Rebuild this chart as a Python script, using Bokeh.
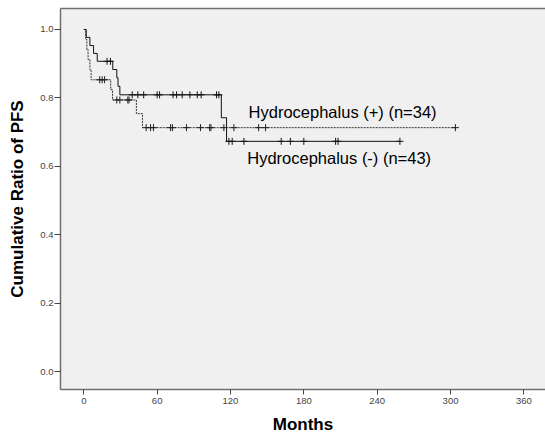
import numpy as np
from bokeh.plotting import figure
from bokeh.models import Range1d, FixedTicker, NumeralTickFormatter, LinearAxis, Label
from bokeh.embed import file_html
from bokeh.resources import INLINE

# Hydrocephalus (+) (n=34) - dashed
plus_times = [0, 1.5, 2.5, 3.5, 5, 6, 22, 23.5, 43, 48, 304]
plus_surv = [1.0, 0.971, 0.941, 0.912, 0.882, 0.853, 0.824, 0.794, 0.754, 0.713, 0.713]
plus_censored = [13, 15, 17, 27, 29.5, 36, 37, 51, 54.6, 57, 71, 72.5, 84,
                 95.5, 103, 104, 114.6, 122.8, 143, 148.7, 304]

# Hydrocephalus (-) (n=43) - solid
minus_times = [0, 2, 5, 8, 11, 23.7, 27, 28, 29.5, 112.5, 116.8, 258.6]
minus_surv = [1.0, 0.977, 0.953, 0.930, 0.907, 0.883, 0.859, 0.834, 0.809, 0.742, 0.673, 0.673]
minus_censored = [19, 21.8, 39.6, 44.2, 49, 60, 62, 73, 75.9, 80.5, 86.8, 92.8, 96,
                  108.6, 110.5, 118.7, 121.4, 131, 161.5, 169, 180, 206, 208, 258.6]

x_ticks = [0, 60, 120, 180, 240, 300, 360]
y_ticks = [0.0, 0.2, 0.4, 0.6, 0.8, 1.0]

label_plus = "Hydrocephalus (+) (n=34)"
label_minus = "Hydrocephalus (-) (n=43)"


def surv_at(times, surv, t):
    idx = np.searchsorted(np.asarray(times), np.asarray(t), side="right") - 1
    return np.asarray(surv)[idx]


p = figure(width=545, height=442, output_backend="svg", toolbar_location=None,
           x_range=Range1d(-19.06, 377.7), y_range=Range1d(-0.0526, 1.0614))
p.min_border_left = 60
p.min_border_right = 0
p.min_border_top = 8
p.min_border_bottom = 53
p.background_fill_color = "#f0f0f0"
p.border_fill_color = "white"
p.outline_line_color = None
p.grid.visible = False

FONT = "Liberation Sans"
AX_COLOR = "#707070"

for ax in (p.xaxis[0], p.yaxis[0]):
    ax.axis_line_color = AX_COLOR
    ax.axis_line_width = 1.5
    ax.major_tick_line_color = "#444444"
    ax.major_tick_out = 5
    ax.major_tick_in = 0
    ax.minor_tick_line_color = None
    ax.major_label_text_font = FONT
    ax.major_label_text_font_size = "9.5px"
    ax.major_label_text_color = "#444444"
    ax.axis_label_text_font = FONT
    ax.axis_label_text_font_style = "bold"
    ax.axis_label_text_color = "black"

p.xaxis[0].ticker = FixedTicker(ticks=x_ticks)
p.xaxis[0].axis_label = "Months"
p.xaxis[0].axis_label_text_font_size = "17px"
p.xaxis[0].major_label_standoff = 3
p.xaxis[0].axis_label_standoff = 8

p.yaxis[0].ticker = FixedTicker(ticks=y_ticks)
p.yaxis[0].formatter = NumeralTickFormatter(format="0.0")
p.yaxis[0].axis_label = "Cumulative Ratio of PFS"
p.yaxis[0].axis_label_text_font_size = "17px"
p.yaxis[0].major_tick_out = 6
p.yaxis[0].major_label_standoff = 1
p.yaxis[0].axis_label_standoff = 10

top = LinearAxis(ticker=FixedTicker(ticks=[]), axis_line_color=AX_COLOR, axis_line_width=1.5,
                 major_tick_line_color=None, minor_tick_line_color=None,
                 major_label_text_font_size="0px")
p.add_layout(top, "above")

# curves
p.step(x=plus_times, y=plus_surv, mode="after", line_color="#333333", line_width=1,
       line_dash="2 1")
p.step(x=minus_times, y=minus_surv, mode="after", line_color="#111111", line_width=1)

p.scatter(x=plus_censored, y=surv_at(plus_times, plus_surv, plus_censored), marker="cross",
          size=7, line_color="#222222", line_width=1)
p.scatter(x=minus_censored, y=surv_at(minus_times, minus_surv, minus_censored), marker="cross",
          size=7, line_color="#111111", line_width=1)

p.add_layout(Label(x=134.8, y=0.760, text=label_plus, text_font=FONT, text_font_size="16.5px",
                   text_baseline="middle", text_color="black"))
p.add_layout(Label(x=133.7, y=0.623, text=label_minus, text_font=FONT, text_font_size="16.5px",
                   text_baseline="middle", text_color="black"))

open("out.html", "w").write(file_html(p, INLINE))
